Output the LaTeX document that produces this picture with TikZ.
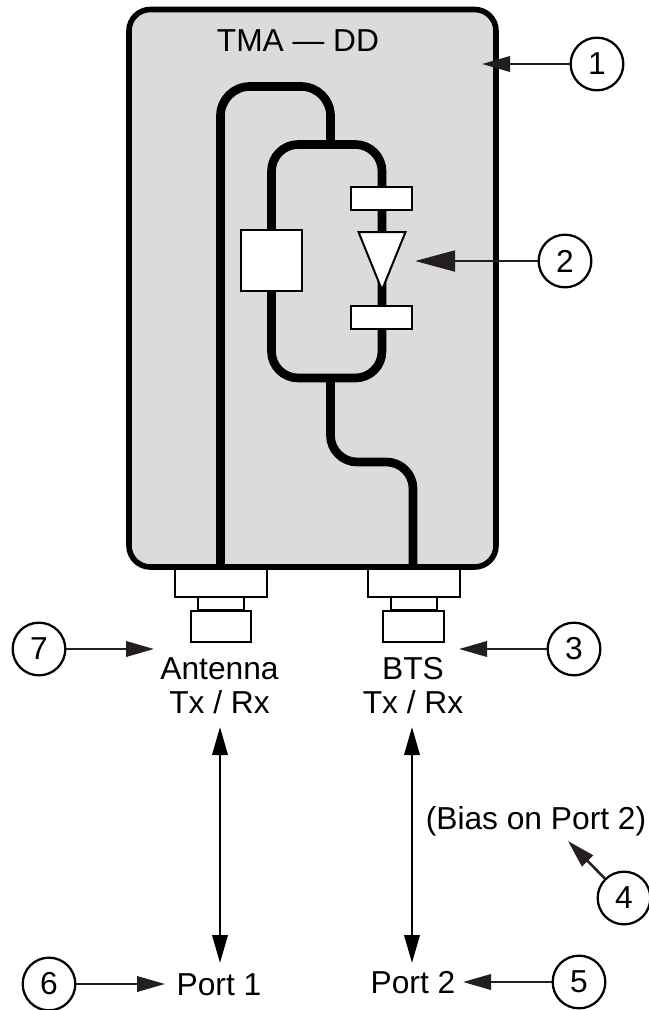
\documentclass[tikz,border=0pt]{standalone}
\usepackage{fontspec}
\setmainfont{Liberation Sans}
\usepackage{xcolor}
\usetikzlibrary{arrows.meta}
\definecolor{housing}{RGB}{219,219,219}
\definecolor{leader}{RGB}{35,31,32}
\tikzset{
  trace/.style={line width=6.5pt,line join=round,rounded corners=20pt},
  part/.style={draw,fill=white,line width=1.5pt,inner sep=0pt,outer sep=0pt,anchor=north west},
  callout/.style={draw,circle,line width=1.7pt,minimum size=39.5pt,inner sep=0pt,fill=white,font=\fontsize{23.8}{25}\selectfont},
  caption/.style={font=\fontsize{23.8}{25.5}\selectfont,align=center,inner sep=0pt},
  pointer/.style={leader,line width=1.9pt,-{Triangle[length=21pt,width=11.5pt]}},
  link/.style={line width=2pt,{Triangle[length=21pt,width=11.5pt]}-{Triangle[length=21pt,width=11.5pt]}}
}

\begin{document}
\begin{tikzpicture}[x=0.75pt,y=-0.75pt]
  \useasboundingbox (0,0) rectangle (649,1010);
  % housing
  \draw[fill=housing,line width=4.2pt,rounded corners=16pt] (129,9.5) rectangle (496,567);
  \node[caption] (title) at (298,41) {TMA — DD};
  % signal paths
  \draw[trace,rounded corners=22pt] (220.5,567) -- (220.5,86.5) -- (330.5,86.5) -- (330.5,144.5);
  \draw[trace] (271.5,260) -- (271.5,144.5) -- (382,144.5) -- (382,378) -- (271.5,378) -- cycle;
  \draw[trace] (330.5,378) -- (330.5,462) -- (413,462) -- (413,567);
  % filter and amplifier
  \node[part,minimum width=46pt,minimum height=46pt] (filter) at (241,230) {};
  \node[part,minimum width=46pt,minimum height=17.5pt] (upper) at (351,187) {};
  \node[part,minimum width=46pt,minimum height=17.5pt] (lower) at (351,306) {};
  \draw[fill=white,line width=1.5pt,line join=miter] (358.5,232) -- (405.5,232) -- (382,290) -- cycle;
  % connectors
  \node[part,minimum width=69pt,minimum height=21pt] (antflange) at (175,569) {};
  \node[part,minimum width=34.5pt,minimum height=10pt] (antneck) at (198,597) {};
  \node[part,minimum width=45.7pt,minimum height=23pt] (antplug) at (190.5,611) {};
  \node[part,minimum width=69pt,minimum height=21pt] (btsflange) at (368,569) {};
  \node[part,minimum width=34.5pt,minimum height=10pt] (btsneck) at (391,597) {};
  \node[part,minimum width=45.7pt,minimum height=23pt] (btsplug) at (383,611) {};
  % labels
  \node[caption] (antenna) at (219.5,686) {Antenna\\Tx / Rx};
  \node[caption] (bts) at (413,686) {BTS\\Tx / Rx};
  \node[caption] (port1) at (219,985) {Port 1};
  \node[caption] (port2) at (413,983) {Port 2};
  \node[caption] (bias) at (536,821) {(Bias on Port 2)};
  % callouts
  \node[callout] (c1) at (597,64) {1};
  \node[callout] (c2) at (565,261) {2};
  \node[callout] (c3) at (574,649) {3};
  \node[callout] (c4) at (624,898) {4};
  \node[callout] (c5) at (579,982) {5};
  \node[callout] (c6) at (49,984) {6};
  \node[callout] (c7) at (39,649) {7};
  \coordinate (t1) at (482,64);
  \coordinate (t3) at (459,649);
  \coordinate (t4) at (568,841);
  \coordinate (t5) at (463,982);
  \coordinate (t6) at (165,984);
  \coordinate (t7) at (154,649);
  \foreach \n in {1,3,4,5,6,7} {
    \draw[pointer] (c\n) -- (t\n);
  }
  \coordinate (t2) at (415,261);
  \draw[leader,line width=2.2pt,-{Triangle[length=30pt,width=15.5pt]}] (c2) -- (t2);
  % links to the ports
  \coordinate (la) at (220,727);
  \coordinate (lb) at (220,963);
  \coordinate (ra) at (412,727);
  \coordinate (rb) at (412,963);
  \draw[link] (la) -- (lb);
  \draw[link] (ra) -- (rb);
\end{tikzpicture}
\end{document}
